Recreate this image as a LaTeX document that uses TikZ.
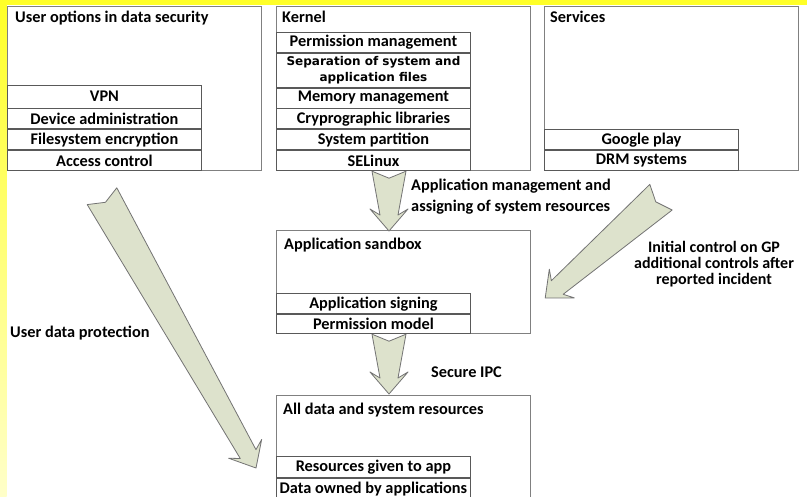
\documentclass[tikz,border=0pt]{standalone}
\usepackage{fontspec}
\setmainfont{Carlito}
\newfontfamily\widefont{DejaVu Sans}
\usetikzlibrary{positioning,calc}

\definecolor{slideyellow}{RGB}{255,255,40}
\definecolor{arrowfill}{RGB}{221,226,204}

\newcommand{\blockarrow}[2]{%
  \coordinate (ba-s) at (#1);
  \coordinate (ba-e) at (#2);
  \coordinate (ba-b) at ($(ba-e)!22pt!(ba-s)$);
  \coordinate (ba-n) at ($(ba-e)!16pt!(ba-s)$);
  \draw[bigarrow] ($(ba-s)!17pt!90:(ba-e)$) -- ($(ba-n)!9pt!90:(ba-e)$)
    -- ($(ba-b)!19pt!90:(ba-e)$) -- (ba-e)
    -- ($(ba-b)!19pt!-90:(ba-e)$) -- ($(ba-n)!9pt!-90:(ba-e)$)
    -- ($(ba-s)!17pt!-90:(ba-e)$) -- ($(ba-s)!7pt!(ba-e)$) -- cycle;
}

\begin{document}
\begin{tikzpicture}[x=1pt,y=-1pt,
    font=\fontsize{16.3}{18}\selectfont\bfseries,
    group/.style={draw=black!50, line width=1.2pt, fill=white,
      minimum width=254pt, inner sep=0pt, anchor=north west},
    title/.style={anchor=base west, inner sep=0pt},
    row/.style={draw=black!65, line width=0.9pt, minimum width=194pt,
      minimum height=20pt, inner sep=0pt},
    bigarrow/.style={draw=black!55, line width=0.8pt, fill=arrowfill,
      line join=round},
    lbl/.style={inner sep=0pt}]
  \useasboundingbox (0,0) rectangle (807,497);
  \clip (0,0) rectangle (807,497);
  \fill[white] (0,0) rectangle (807,497);
  \shade[top color=slideyellow, bottom color=slideyellow!25] (0,0) rectangle (6.5,497);
  \fill[slideyellow] (0,0) rectangle (807,5);

  % top row of groups
  \node[group, minimum height=164pt] (user) at (7,6) {};
  \node[title] (usertitle) at ($(user.north west)+(8,17)$) {User options in data security};
  \node[row, anchor=south west] (acc) at (user.south west) {Access control};
  \node[row, above=0pt of acc] (fse) {Filesystem encryption};
  \node[row, above=0pt of fse] (devadm) {Device administration};
  \node[row, above=0pt of devadm, minimum height=23pt] (vpn) {VPN};

  \node[group, minimum height=164pt] (kernel) at (276,6) {};
  \node[title] (kerneltitle) at ($(kernel.north west)+(6,17)$) {Kernel};
  \node[row, anchor=south west] (selinux) at (kernel.south west) {SELinux};
  \node[row, above=0pt of selinux] (syspart) {System partition};
  \node[row, above=0pt of syspart] (crypto) {Cryprographic libraries};
  \node[row, above=0pt of crypto] (memory) {Memory management};
  \node[row, above=0pt of memory, minimum height=34pt, align=center,
    font=\widefont\fontsize{12}{16}\selectfont\bfseries] (separation)
    {Separation of system and\\application files};
  \node[row, above=0pt of separation] (permmgmt) {Permission management};

  \node[group, minimum height=164pt] (services) at (544,6) {};
  \node[title] (servicestitle) at ($(services.north west)+(6,17)$) {Services};
  \node[row, anchor=south west] (drm) at (services.south west) {DRM systems};
  \node[row, above=0pt of drm] (gplay) {Google play};

  % sandbox and resources
  \node[group, minimum height=103pt] (sandbox) at (276,230) {};
  \node[title] (sandboxtitle) at ($(sandbox.north west)+(8,20)$) {Application sandbox};
  \node[row, anchor=south west, minimum height=19pt] (permmodel) at (sandbox.south west) {Permission model};
  \node[row, above=0pt of permmodel] (signing) {Application signing};

  \node[group, minimum height=104pt] (alldata) at (276,395) {};
  \node[title] (alldatatitle) at ($(alldata.north west)+(7,20)$) {All data and system resources};
  \node[row, anchor=south west, minimum height=21pt] (owned) at (alldata.south west) {Data owned by applications};
  \node[row, above=0pt of owned, minimum height=21pt] (given) {Resources given to app};

  % arrows
  \blockarrow{$(kernel.south west)+(113,0)$}{$(sandbox.north west)+(113,1)$}
  \blockarrow{$(sandbox.south west)+(113,0)$}{$(alldata.north west)+(113,-1)$}
  \blockarrow{$(services.south west)+(117,26)$}{$(sandbox.north east)+(14,68)$}
  \blockarrow{$(user.south west)+(95,25)$}{$(alldata.north west)+(-20,73)$}

  \node[lbl, anchor=north west, align=left,
    font=\fontsize{16.3}{21}\selectfont\bfseries] (mgmt) at (411,179)
    {Application management and\\assigning of system resources};
  \node[lbl, anchor=north, align=center,
    font=\fontsize{16}{16}\selectfont\bfseries] (gp) at (714,241)
    {Initial control on GP\\additional controls after\\reported incident};
  \node[lbl, anchor=base west] (udp) at (10,338) {User data protection};
  \node[lbl, anchor=base west] (ipc) at (431,378) {Secure IPC};
\end{tikzpicture}
\end{document}
